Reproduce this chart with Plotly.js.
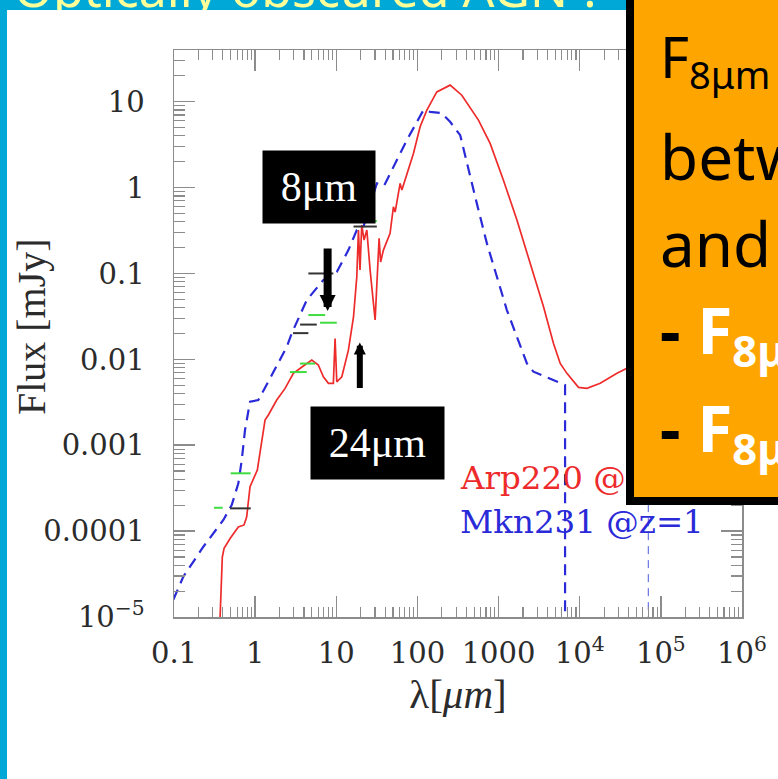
<!DOCTYPE html>
<html>
<head>
<meta charset="utf-8">
<script src="https://cdn.plot.ly/plotly-3.0.1.min.js"></script>
<style>
  html, body { margin: 0; padding: 0; width: 778px; height: 779px; overflow: hidden; background: #00a8d8; position: relative; }
  #headline { position: absolute; left: 14px; top: -46px; font: 50px 'Noto Sans', sans-serif; color: #ffff99; white-space: nowrap; }
  #sheet { position: absolute; left: 7px; top: 10px; width: 771px; height: 769px; background: #ffffff; }
  #chart { position: absolute; left: 7px; top: 10px; width: 771px; height: 769px; }
  #note { position: absolute; left: 626px; top: -40px; width: 200px; height: 545px; box-sizing: border-box;
          border: 8px solid #000; background: #ffa500; font-family: 'Noto Sans', sans-serif; overflow: hidden; z-index: 5; }
  #note .line { position: absolute; left: 26px; white-space: nowrap; line-height: 1; }
  #note .dark { color: #000; }
  #note .light { color: #fff; font-weight: bold; }
  #note sub { font-size: 0.68em; vertical-align: -0.3em; line-height: 0; }
</style>
</head>
<body>
<div id="headline">Optically obscured AGN ?</div>
<div id="sheet"></div>
<div id="chart"></div>
<div id="note">
  <div class="line dark" style="top:60px;font-size:56px;">F<sub>8μm</sub></div>
  <div class="line dark" style="top:157px;font-size:62px;">between</div>
  <div class="line dark" style="top:244px;font-size:62px;">and</div>
  <div class="line light" style="top:330px;font-size:64px;"><span class="dark">- </span>F<sub>8μm</sub></div>
  <div class="line light" style="top:428px;font-size:64px;"><span class="dark">- </span>F<sub>8μm</sub></div>
</div>
<script>
// Arp220 template SED (wavelength in micron, flux in mJy)
const arpWave = [0.36, 0.377, 0.394, 0.414, 0.491, 0.621, 0.73, 0.787, 0.865, 1.064, 1.324, 1.455, 1.845, 2.339,
  2.958, 3.926, 4.989, 6.01, 6.93, 8.0, 9.2, 9.66, 10.14, 11.7, 14.1, 16.3, 17.9, 18.75, 19.6, 20.6, 22.0, 23.8,
  26.1, 30.1, 33.0, 33.7, 35.2, 38.1, 46.0, 50.6, 53.1, 55.7, 61.2, 64.3, 74.0, 89.3, 107.9, 130.6, 173.4, 252.9,
  352.4, 564.9, 787, 1148, 1683, 2455, 3581, 4753, 5754, 6950, 9661, 12274, 17906, 28774, 38194, 1e5];
const arpFlux = [5e-6, 2.06e-5, 5.0e-5, 6.3e-5, 8.2e-5, 1.12e-4, 1.18e-4, 1.47e-4, 3.29e-4, 5.14e-4, 1.96e-3, 2.25e-3,
  3.36e-3, 4.59e-3, 6.87e-3, 8.36e-3, 9.82e-3, 8.59e-3, 6.27e-3, 5.26e-3, 5.26e-3, 1.75e-2, 5.48e-3, 6.27e-3, 1.28e-2,
  3.13e-2, 9.16e-2, 0.320, 0.110, 0.366, 0.245, 0.320, 0.110, 0.0287, 0.156, 0.256, 0.136, 0.187, 0.293, 0.597, 0.519,
  0.655, 1.12, 0.935, 1.46, 2.50, 5.11, 7.98, 13.0, 15.6, 11.9, 6.11, 3.27, 1.22, 0.419, 0.131, 0.0409, 0.0153,
  8.97e-3, 6.87e-3, 4.72e-3, 4.59e-3, 5.26e-3, 6.87e-3, 7.85e-3, 0.0141];

// Mkn231 template SED
const mknWave = [0.08, 0.1, 0.13, 0.23, 0.406, 0.514, 0.621, 0.684, 0.75, 0.865, 1.094, 1.528, 2.028, 2.455, 2.825,
  4.325, 6.93, 10.14, 14.1, 17.9, 21.6, 31.6, 38.8, 50.6, 74.0, 118.6, 143.5, 198.6, 252.9, 336.5, 406.4, 539.5,
  717.8, 952.8, 1265, 1683, 2234, 2692, 6600, 6600];
const mknFlux = [1.02e-5, 1.65e-5, 2.94e-5, 6.58e-5, 1.35e-4, 2.01e-4, 3.60e-4, 6.73e-4, 1.50e-3, 3.21e-3, 3.36e-3,
  6.01e-3, 9.82e-3, 1.40e-2, 2.01e-2, 4.90e-2, 8.38e-2, 0.104, 0.187, 0.320, 0.350, 1.12, 1.05, 1.75, 3.57, 7.98,
  7.62, 7.36, 5.83, 4.08, 1.91, 0.655, 0.224, 0.0916, 0.0375, 0.0183, 8.97e-3, 7.18e-3, 5.02e-3, 1e-7];

// second long-wavelength cut
const cutWave = [7.0e4, 7.0e4];
const cutFlux = [3e-4, 1e-7];

// photometric bands: lower / upper wavelength and flux
const greenLo = [0.50, 0.311, 2.69, 3.58, 4.53, 6.31, 17.8];
const greenHi = [0.88, 0.398, 4.33, 5.48, 7.28, 10.14, 31.6];
const greenFlux = [4.71e-4, 1.87e-4, 7.11e-3, 8.93e-3, 3.28e-2, 2.67e-2, 0.407];
const blackLo = [0.491, 2.93, 3.58, 4.53, 16.3];
const blackHi = [0.883, 4.53, 5.75, 9.20, 31.6];
const blackFlux = [1.84e-4, 2.02e-2, 2.54e-2, 0.100, 0.352];

// axis ticks
const xTickVals = [0.1, 1, 10, 100, 1000, 1e4, 1e5, 1e6];
const xTickText = ['0.1', '1', '10', '100', '1000', '10<sup>4</sup>', '10<sup>5</sup>', '10<sup>6</sup>'];
const yTickVals = [1e-5, 1e-4, 1e-3, 0.01, 0.1, 1, 10];
const yTickText = ['10<sup>\u22125</sup>', '0.0001', '0.001', '0.01', '0.1', '1', '10'];

// legend labels
const seriesNames = ['Arp220 @z=1', 'Mkn231 @z=1'];

function bandSegments(lo, hi, flux) {
  const x = [], y = [];
  lo.forEach((v, i) => { x.push(v, hi[i], null); y.push(flux[i], flux[i], null); });
  return { x, y };
}
function minorTicks(e0, e1, maxVal) {
  const v = [];
  for (let e = e0; e <= e1; e++) for (let m = 2; m <= 9; m++) {
    const t = m * Math.pow(10, e);
    if (t < maxVal) v.push(t);
  }
  return v;
}

const green = bandSegments(greenLo, greenHi, greenFlux);
const black = bandSegments(blackLo, blackHi, blackFlux);

const red = '#ee2b2b', blue = '#2a2ad8', axisGrey = '#8c8c8c';

const traces = [
  { x: arpWave, y: arpFlux, mode: 'lines', line: { color: red, width: 1.7 }, name: seriesNames[0] },
  { x: mknWave, y: mknFlux, mode: 'lines', line: { color: blue, width: 2.2, dash: '11px,7px' }, name: seriesNames[1] },
  { x: cutWave, y: cutFlux, mode: 'lines', line: { color: '#4b5be0', width: 1, dash: '8px,6px' } },
  { x: green.x, y: green.y, mode: 'lines', line: { color: '#3fdc3f', width: 2 }, connectgaps: false },
  { x: black.x, y: black.y, mode: 'lines', line: { color: '#333333', width: 2 }, connectgaps: false }
];

const tickFont = { family: 'DejaVu Serif', size: 29, color: '#2b2b2b' };
const baseAxis = {
  type: 'log', showline: true, linecolor: axisGrey, linewidth: 1.5, mirror: 'allticks',
  ticks: 'inside', ticklen: 21, tickwidth: 1.5, tickcolor: axisGrey, tickmode: 'array',
  showgrid: false, zeroline: false, tickfont: tickFont
};

const layout = {
  width: 771, height: 769,
  margin: { l: 167, r: 36, t: 40, b: 162 },
  paper_bgcolor: '#ffffff', plot_bgcolor: '#ffffff',
  showlegend: false,
  xaxis: Object.assign({}, baseAxis, {
    range: [-1, 6], tickvals: xTickVals, ticktext: xTickText, ticklabelstandoff: 10,
    minor: { ticks: 'inside', ticklen: 10, tickwidth: 1.2, tickcolor: axisGrey, tickmode: 'array', tickvals: minorTicks(-1, 5, 1e6), showgrid: false },
    title: { text: 'λ[<i>μm</i>]', font: { family: 'Liberation Serif', size: 41, color: '#2b2b2b' }, standoff: 10 }
  }),
  yaxis: Object.assign({}, baseAxis, {
    range: [-5, 1.602], tickvals: yTickVals, ticktext: yTickText, ticklabelstandoff: 22,
    minor: { ticks: 'inside', ticklen: 11, tickwidth: 1.2, tickcolor: axisGrey, tickmode: 'array', tickvals: minorTicks(-5, 1, 40), showgrid: false }
  }),
  annotations: [
    { xref: 'paper', yref: 'paper', x: -0.2518, y: 0.513, xanchor: 'center', yanchor: 'middle', showarrow: false,
      textangle: -90, text: 'Flux [mJy]', font: { family: 'Liberation Serif', size: 40, color: '#2b2b2b' } },
    { xref: 'paper', yref: 'paper', x: 0.5, y: 0.245, xanchor: 'left', yanchor: 'middle', showarrow: false,
      text: seriesNames[0], font: { family: 'DejaVu Serif', size: 32.5, color: red } },
    { xref: 'paper', yref: 'paper', x: 0.5, y: 0.168, xanchor: 'left', yanchor: 'middle', showarrow: false,
      text: seriesNames[1], font: { family: 'DejaVu Serif', size: 32.5, color: blue } },
    { xref: 'paper', yref: 'paper', x: 0.2556, y: 0.7587, xanchor: 'center', yanchor: 'middle', showarrow: false,
      text: '8μm', width: 112, height: 72, borderpad: 0, bgcolor: '#000000',
      font: { family: 'Liberation Serif', size: 42, color: '#ffffff' } },
    { xref: 'paper', yref: 'paper', x: 0.3583, y: 0.3071, xanchor: 'center', yanchor: 'middle', showarrow: false,
      text: '24μm', width: 133, height: 72, borderpad: 0, bgcolor: '#000000',
      font: { family: 'Liberation Serif', size: 42, color: '#ffffff' } },
    { xref: 'x', yref: 'y', x: Math.log10(7.82), y: Math.log10(0.0365), ax: 0, ay: -64, text: '',
      showarrow: true, arrowhead: 2, arrowsize: 0.4, arrowwidth: 8, arrowcolor: '#000000', standoff: 0 },
    { xref: 'x', yref: 'y', x: Math.log10(19.5), y: Math.log10(0.0157), ax: 0, ay: 47, text: '',
      showarrow: true, arrowhead: 2, arrowsize: 0.4, arrowwidth: 6, arrowcolor: '#000000', standoff: 0 }
  ]
};

Plotly.newPlot('chart', traces, layout, { staticPlot: true, displayModeBar: false });
</script>
</body>
</html>
